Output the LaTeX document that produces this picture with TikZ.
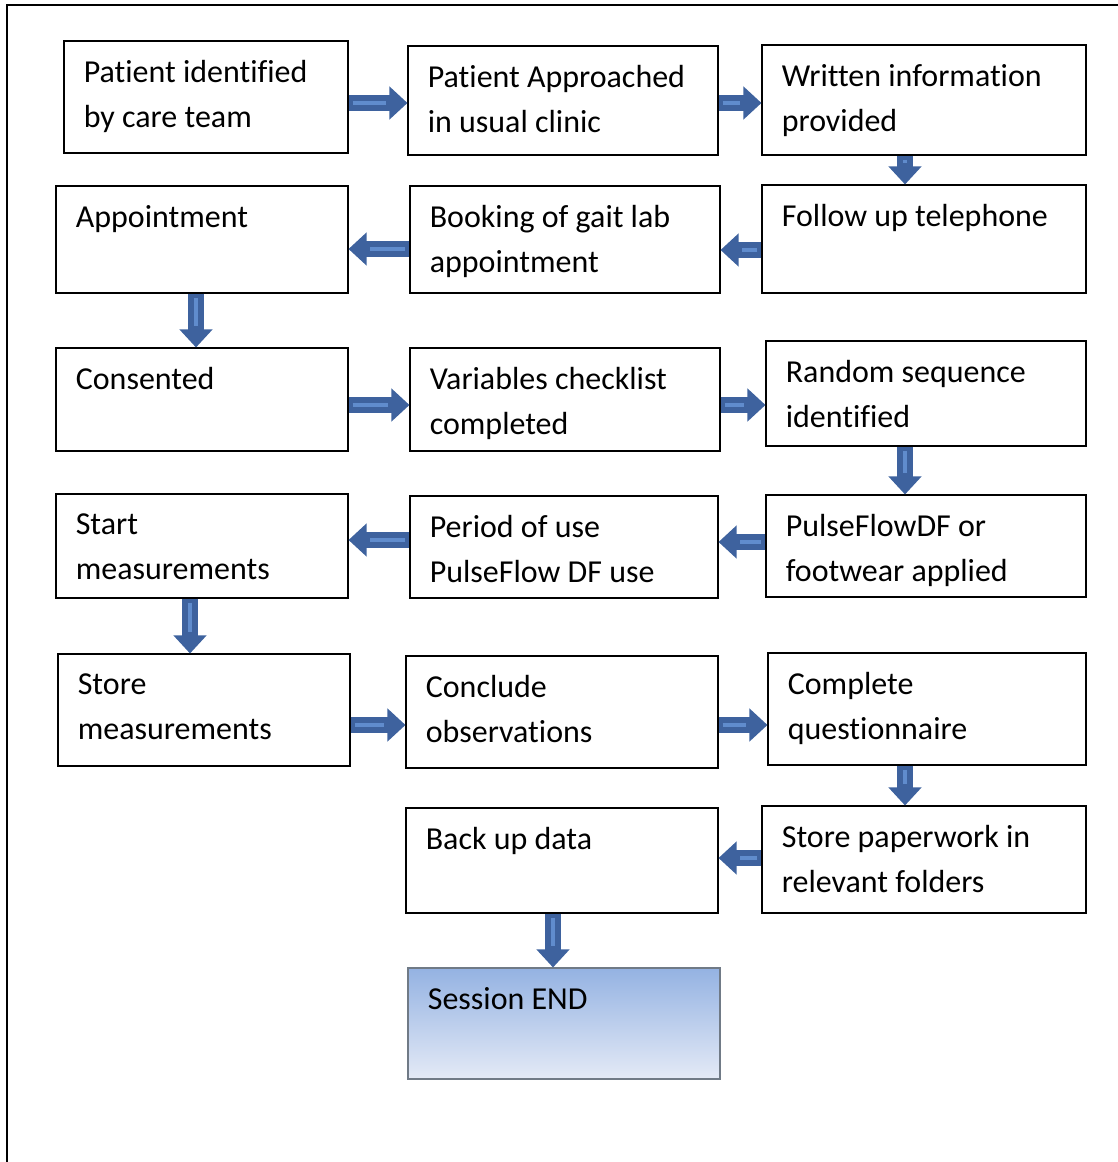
\documentclass[tikz,border=0pt]{standalone}
\usepackage{fontspec}
\setmainfont{Carlito}[Ligatures=CommonOff]
\usetikzlibrary{arrows.meta,fit}

\definecolor{arrowblue}{RGB}{62,98,158}
\definecolor{stripeblue}{RGB}{96,140,205}
\definecolor{endtop}{RGB}{148,178,226}
\definecolor{endbottom}{RGB}{228,234,246}
\definecolor{endborder}{RGB}{112,122,134}

\tikzset{
  box/.style={draw=black, line width=0.6pt, inner sep=0pt},
  txt/.style={anchor=north west, align=left, inner sep=0pt, xshift=0.40cm, yshift=-0.39cm,
    font=\fontsize{18.2}{25.6}\selectfont},
  flow/.style={draw=arrowblue, line width=0.32cm, -{Triangle[width=0.64cm,length=0.36cm]},
    postaction={draw=stripeblue, line width=0.08cm, -, shorten >=0.42cm, shorten <=0.08cm}}
}

\begin{document}
\begin{tikzpicture}[x=0.02cm, y=-0.02cm]
\useasboundingbox (0,0) rectangle (1118,1162);
% outer frame
\draw [black, line width=1.1pt] (7,1162) -- (7,5) -- (1118,5);
% row 1
\node [box, fit={(64,41) (348,153)}, label={[txt]north west:Patient identified\\by care team}] (ident) {};
\node [box, fit={(408,46) (718,155)}, label={[txt]north west:Patient Approached\\in usual clinic}] (approach) {};
\node [box, fit={(762,45) (1086,155)}, label={[txt]north west:Written information\\provided}] (written) {};
% row 2
\node [box, fit={(56,186) (348,293)}, label={[txt]north west:Appointment}] (appoint) {};
\node [box, fit={(410,186) (720,293)}, label={[txt]north west:Booking of gait lab\\appointment}] (booking) {};
\node [box, fit={(762,185) (1086,293)}, label={[txt]north west:Follow up telephone}] (phone) {};
% row 3
\node [box, fit={(56,348) (348,451)}, label={[txt]north west:Consented}] (consent) {};
\node [box, fit={(410,348) (720,451)}, label={[txt]north west:Variables checklist\\completed}] (checklist) {};
\node [box, fit={(766,341) (1086,446)}, label={[txt]north west:Random sequence\\identified}] (random) {};
% row 4
\node [box, fit={(56,494) (348,598)}, label={[txt]north west:Start\\measurements}] (start) {};
\node [box, fit={(410,496) (718,598)}, label={[txt]north west:Period of use\\PulseFlow DF use}] (period) {};
\node [box, fit={(766,495) (1086,597)}, label={[txt]north west:PulseFlowDF or\\footwear applied}] (applied) {};
% row 5
\node [box, fit={(58,654) (350,766)}, label={[txt]north west:Store\\measurements}] (store) {};
\node [box, fit={(406,656) (718,768)}, label={[txt]north west:Conclude\\observations}] (conclude) {};
\node [box, fit={(768,653) (1086,765)}, label={[txt]north west:Complete\\questionnaire}] (quest) {};
% row 6
\node [box, fit={(406,808) (718,913)}, label={[txt]north west:Back up data}] (backup) {};
\node [box, fit={(762,806) (1086,913)}, label={[txt]north west:Store paperwork in\\relevant folders}] (paper) {};
% end
\node [box, draw=endborder, top color=endtop, bottom color=endbottom, fit={(408,968) (720,1079)},
  label={[txt]north west:Session END}] (session) {};
% arrows
\draw [flow] ([yshift=-0.12cm]ident.east) -- ([yshift=-0.12cm]ident.east -| approach.west);
\draw [flow] ([yshift=-0.05cm]approach.east) -- ([yshift=-0.05cm]approach.east -| written.west);
\draw [flow] ([xshift=-0.38cm]written.south) -- ([xshift=-0.38cm]written.south |- phone.north);
\draw [flow] ([yshift=-0.22cm]phone.west) -- ([yshift=-0.22cm]phone.west -| booking.east);
\draw [flow] ([yshift=-0.19cm]booking.west) -- ([yshift=-0.19cm]booking.west -| appoint.east);
\draw [flow] ([xshift=-0.12cm]appoint.south) -- ([xshift=-0.12cm]appoint.south |- consent.north);
\draw [flow] ([yshift=-0.11cm]consent.east) -- ([yshift=-0.11cm]consent.east -| checklist.west);
\draw [flow] ([yshift=-0.11cm]checklist.east) -- ([yshift=-0.11cm]checklist.east -| random.west);
\draw [flow] ([xshift=-0.42cm]random.south) -- ([xshift=-0.42cm]random.south |- applied.north);
\draw [flow] ([yshift=0.08cm]applied.west) -- ([yshift=0.08cm]applied.west -| period.east);
\draw [flow] ([yshift=0.14cm]period.west) -- ([yshift=0.14cm]period.west -| start.east);
\draw [flow] ([xshift=-0.24cm]start.south) -- ([xshift=-0.24cm]start.south |- store.north);
\draw [flow] ([yshift=-0.3cm]store.east) -- ([yshift=-0.3cm]store.east -| conclude.west);
\draw [flow] ([yshift=-0.26cm]conclude.east) -- ([yshift=-0.26cm]conclude.east -| quest.west);
\draw [flow] ([xshift=-0.44cm]quest.south) -- ([xshift=-0.44cm]quest.south |- paper.north);
\draw [flow] ([yshift=0.03cm]paper.west) -- ([yshift=0.03cm]paper.west -| backup.east);
\draw [flow] ([xshift=-0.18cm]backup.south) -- ([xshift=-0.18cm]backup.south |- session.north);
\end{tikzpicture}
\end{document}
